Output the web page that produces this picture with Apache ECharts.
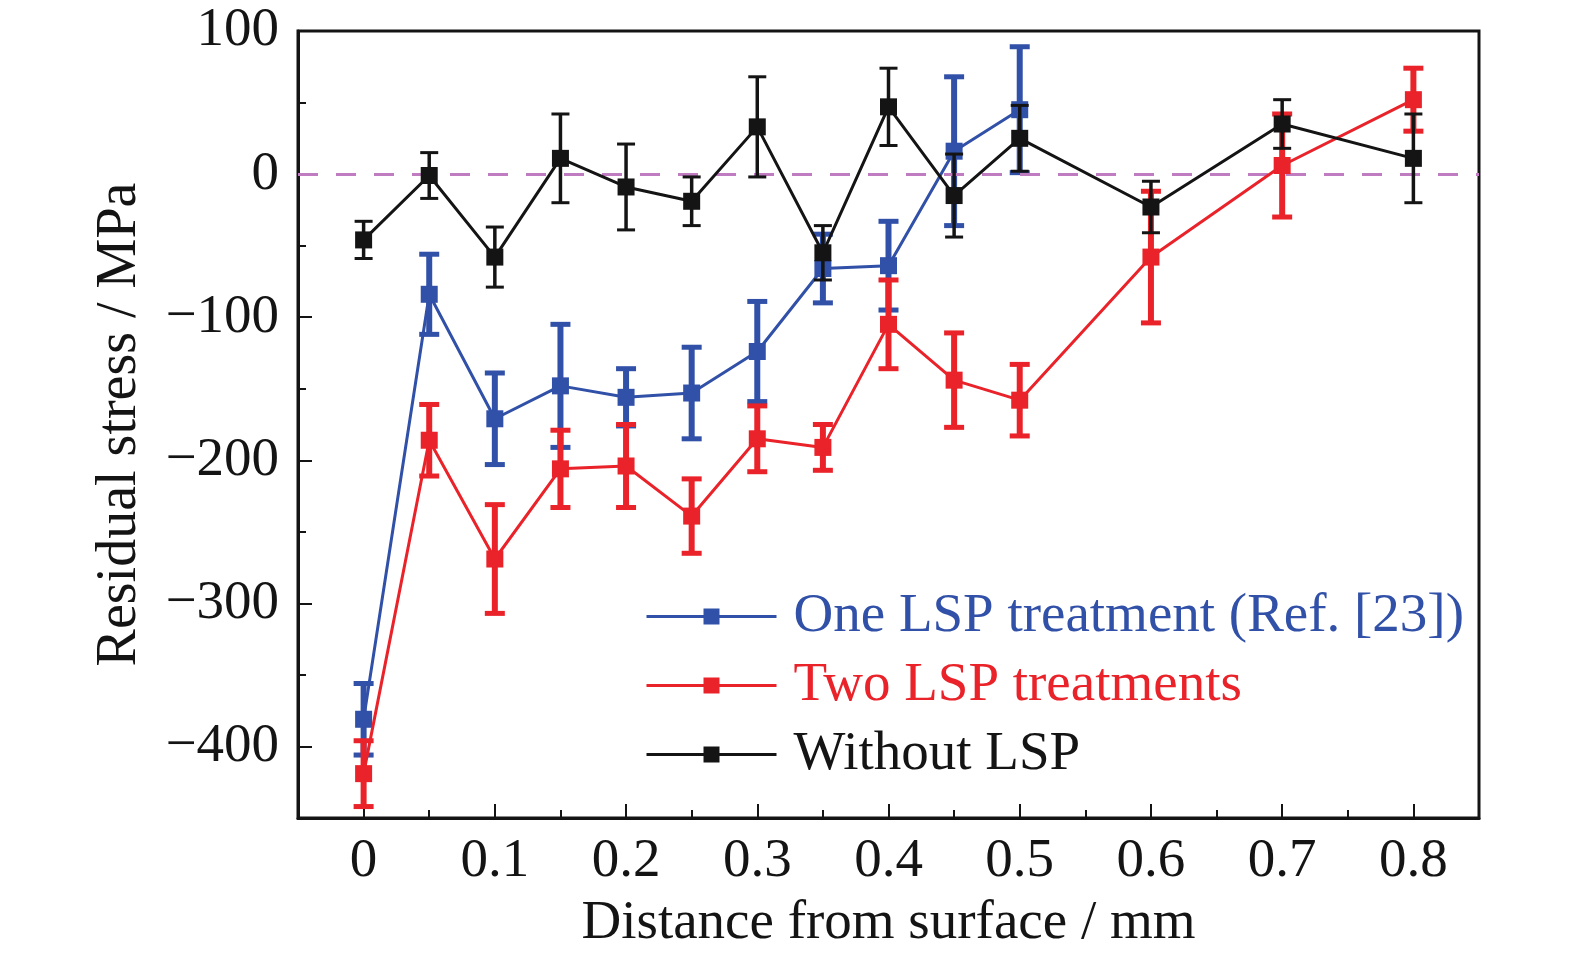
<!DOCTYPE html>
<html>
<head>
<meta charset="utf-8">
<script src="https://cdn.jsdelivr.net/npm/echarts@6/dist/echarts.min.js"></script>
<style>
html,body{margin:0;padding:0;background:#fff;}
#chart{width:1575px;height:957px;}
</style>
</head>
<body>
<div id="chart"></div>
<script>
// ---- data ----
const xAll = [0, 0.05, 0.1, 0.15, 0.2, 0.25, 0.3, 0.35, 0.4, 0.45, 0.5, 0.6, 0.7, 0.8];
const xOne = [0, 0.05, 0.1, 0.15, 0.2, 0.25, 0.3, 0.35, 0.4, 0.45, 0.5];

const oneLSP = [-381, -84, -171, -148, -156, -153, -124, -66, -64, 16, 45];
const oneLSPErr = [25, 28, 32, 43, 20, 32, 35, 24, 31, 52, 44];

const twoLSP = [-419, -186, -269, -206, -204, -239, -185, -191, -105, -144, -158, -58, 6, 52];
const twoLSPErr = [23, 25, 38, 27, 29, 26, 23, 16, 31, 33, 25, 46, 36, 22];

const noLSP = [-46, -1, -58, 11, -9, -19, 33, -55, 47, -15, 25, -23, 35, 11];
const noLSPErr = [13, 16, 21, 31, 30, 17, 35, 19, 27, 29, 23, 18, 17, 31];

const seriesNames = ['One LSP treatment (Ref. [23])', 'Two LSP treatments', 'Without LSP'];
const xTickValues = [0, 0.1, 0.2, 0.3, 0.4, 0.5, 0.6, 0.7, 0.8];
const yTickValues = [-400, -300, -200, -100, 0, 100];

// ---- style ----
const BLUE = '#3150a8';
const RED = '#ea2229';
const BLACK = '#141414';
const FONT = '"Liberation Serif", "Times New Roman", serif';
const FS = 55;

function pts(xs, ys) { return xs.map((x, i) => [x, ys[i]]); }
function errPts(xs, ys, es) { return xs.map((x, i) => [x, ys[i] - es[i], ys[i] + es[i]]); }

function errorBar(name, data, color, stemW, capW, capLW, z) {
  return {
    type: 'custom',
    name: name,
    silent: true,
    z: z,
    encode: { x: 0, y: [1, 2] },
    data: data,
    renderItem: function (params, api) {
      const x = api.value(0), lo = api.value(1), hi = api.value(2);
      const pTop = api.coord([x, hi]);
      const pBot = api.coord([x, lo]);
      const hw = capW / 2;
      return {
        type: 'group',
        children: [
          { type: 'line', shape: { x1: pTop[0], y1: pTop[1], x2: pBot[0], y2: pBot[1] }, style: { stroke: color, lineWidth: stemW } },
          { type: 'line', shape: { x1: pTop[0] - hw, y1: pTop[1], x2: pTop[0] + hw, y2: pTop[1] }, style: { stroke: color, lineWidth: capLW } },
          { type: 'line', shape: { x1: pBot[0] - hw, y1: pBot[1], x2: pBot[0] + hw, y2: pBot[1] }, style: { stroke: color, lineWidth: capLW } }
        ]
      };
    }
  };
}

function lineSeries(name, data, color, z, extra) {
  return Object.assign({
    type: 'line',
    name: name,
    data: data,
    z: z,
    symbol: 'rect',
    symbolSize: 17,
    showAllSymbol: true,
    lineStyle: { color: color, width: 3 },
    itemStyle: { color: color },
    emphasis: { disabled: true }
  }, extra || {});
}

function fmtNum(v) {
  const r = Math.round(v * 100) / 100;
  return r < 0 ? '\u2212' + Math.abs(r) : String(r);
}

const chart = echarts.init(document.getElementById('chart'), null, { renderer: 'canvas' });
chart.setOption({
  animation: false,
  backgroundColor: '#fff',
  grid: { left: 298, right: 96, top: 31, bottom: 139, outerBoundsMode: 'none', containLabel: false, show: true, borderColor: BLACK, borderWidth: 3, backgroundColor: 'transparent' },
  legend: {
    orient: 'vertical',
    left: 640,
    top: 584,
    itemWidth: 130,
    itemHeight: 20,
    itemGap: 14,
    selectedMode: false,
    lineStyle: { width: 3 },
    data: [
      { name: seriesNames[0], textStyle: { color: BLUE } },
      { name: seriesNames[1], textStyle: { color: RED } },
      { name: seriesNames[2], textStyle: { color: BLACK } }
    ],
    textStyle: { fontFamily: FONT, fontSize: FS, lineHeight: 55, padding: [0, 0, 0, 12] }
  },
  xAxis: [
    {
      type: 'value', min: -0.05, max: 0.85, interval: 0.05,
      name: 'Distance from surface / mm', nameLocation: 'middle', nameGap: 78,
      nameTextStyle: { fontFamily: FONT, fontSize: FS, color: BLACK },
      axisLine: { show: true, onZero: false, lineStyle: { color: BLACK, width: 3 } },
      axisTick: { show: true, inside: true, length: 8, lineStyle: { color: BLACK, width: 2 } },
      axisLabel: {
        show: true, margin: 16, fontFamily: FONT, fontSize: FS, color: BLACK,
        formatter: function (v) {
          const k = Math.round(v * 20);
          if (k % 2 !== 0 || k < 0 || k > 16) return '';
          return fmtNum(v);
        }
      },
      splitLine: { show: false }
    },
    {
      type: 'value', min: -0.05, max: 0.85, position: 'bottom',
      axisLine: { show: false, onZero: false },
      axisTick: { show: true, inside: true, length: 14, customValues: xTickValues, lineStyle: { color: BLACK, width: 2 } },
      axisLabel: { show: false },
      splitLine: { show: false }
    }
  ],
  yAxis: [
    {
      type: 'value', min: -450, max: 100, interval: 50,
      name: 'Residual stress / MPa', nameLocation: 'middle', nameGap: 150, nameRotate: 90,
      nameTextStyle: { fontFamily: FONT, fontSize: FS + 1, color: BLACK },
      axisLine: { show: true, onZero: false, lineStyle: { color: BLACK, width: 3 } },
      axisTick: { show: true, inside: true, length: 8, lineStyle: { color: BLACK, width: 2 } },
      axisLabel: {
        show: true, margin: 19, fontFamily: FONT, fontSize: FS, color: BLACK,
        formatter: function (v) {
          if (Math.round(v) % 100 !== 0) return '';
          return fmtNum(v);
        }
      },
      splitLine: { show: false }
    },
    {
      type: 'value', min: -450, max: 100, position: 'left',
      axisLine: { show: false, onZero: false },
      axisTick: { show: true, inside: true, length: 14, customValues: yTickValues, lineStyle: { color: BLACK, width: 2 } },
      axisLabel: { show: false },
      splitLine: { show: false }
    }
  ],
  series: [
    errorBar('errOne', errPts(xOne, oneLSP, oneLSPErr), BLUE, 6, 20, 5, 2),
    lineSeries(seriesNames[0], pts(xOne, oneLSP), BLUE, 3, {
      markLine: {
        silent: true, symbol: 'none', label: { show: false },
        lineStyle: { color: '#c07cc0', width: 3, type: [20, 18] },
        data: [{ yAxis: 0 }]
      }
    }),
    errorBar('errTwo', errPts(xAll, twoLSP, twoLSPErr), RED, 6, 20, 5, 4),
    lineSeries(seriesNames[1], pts(xAll, twoLSP), RED, 5),
    errorBar('errNo', errPts(xAll, noLSP, noLSPErr), BLACK, 3.5, 18, 3, 6),
    lineSeries(seriesNames[2], pts(xAll, noLSP), BLACK, 7)
  ]
});
</script>
</body>
</html>
